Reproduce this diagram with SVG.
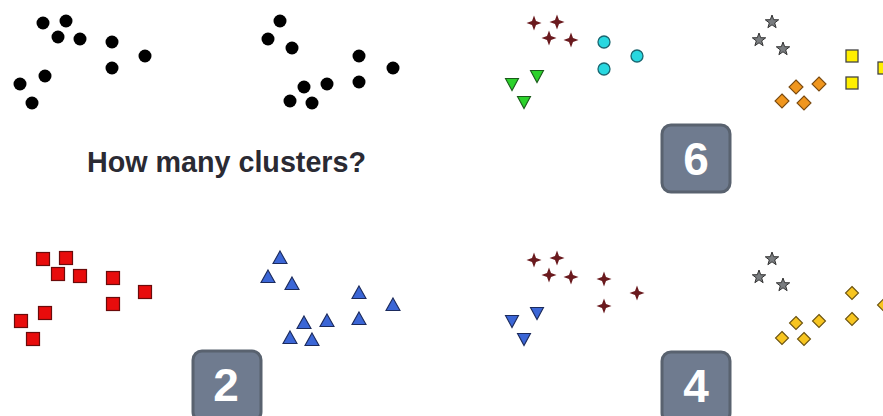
<svg xmlns="http://www.w3.org/2000/svg" xmlns:xlink="http://www.w3.org/1999/xlink" width="883" height="416" viewBox="0 0 883 416">
<style>
.dot{fill:#000}
.sq{fill:#e80c0c;stroke:#6a0b0b;stroke-width:1.2}
.tri{fill:#3b66d6;stroke:#1b2a5c;stroke-width:1.1}
.cross{fill:#6a1a1e}
.cyan{fill:#28d8e0;stroke:#1a6670;stroke-width:1.3}
.green{fill:#2bd22b;stroke:#1a5a1a;stroke-width:1.1}
.star{fill:#7a7d80;stroke:#333;stroke-width:1}
.ysq{fill:#ffef00;stroke:#444;stroke-width:1.3}
.odia{fill:#f0961e;stroke:#7a4a10;stroke-width:1.1}
.gdia{fill:#f7c520;stroke:#6a5210;stroke-width:1.1}
.bdown{fill:#3b66d6;stroke:#1b2a5c;stroke-width:1.1}
.badge{fill:#6f7b8f;stroke:#59626f;stroke-width:3}
.num{font-family:"Liberation Sans",Arial,sans-serif;font-weight:bold;font-size:46px;fill:#fff;text-anchor:middle}
.q{font-family:"Liberation Sans",Arial,sans-serif;font-weight:bold;font-size:28.7px;fill:#2a2a33}
</style>
<defs>
<circle id="d" class="dot" r="6.5"/>
<rect id="s" class="sq" x="-6.5" y="-6.5" width="13" height="13"/>
<polygon id="t" class="tri" points="0,-7 7,5.5 -7,5.5"/>
<polygon id="x" class="cross" points="0,-7.5 2,-2 7.5,0 2,2 0,7.5 -2,2 -7.5,0 -2,-2"/>
<circle id="c" class="cyan" r="6"/>
<polygon id="g" class="green" points="-6.5,-5.5 6.5,-5.5 0,6.5"/>
<polygon id="b" class="bdown" points="-6.5,-5.5 6.5,-5.5 0,6.5"/>
<polygon id="st" class="star" points="0,-7 1.7,-2.3 6.7,-2.2 2.7,0.9 4.1,5.7 0,2.8 -4.1,5.7 -2.7,0.9 -6.7,-2.2 -1.7,-2.3"/>
<rect id="y" class="ysq" x="-6" y="-6" width="12" height="12"/>
<polygon id="o" class="odia" points="0,-7 7,0 0,7 -7,0"/>
<polygon id="gd" class="gdia" points="0,-6.5 6.5,0 0,6.5 -6.5,0"/>
</defs>
<g id="panel-top-left">
<use xlink:href="#d" x="43" y="23"/><use xlink:href="#d" x="66" y="21"/><use xlink:href="#d" x="58" y="37"/><use xlink:href="#d" x="80" y="39"/>
<use xlink:href="#d" x="112" y="42"/><use xlink:href="#d" x="145" y="56"/><use xlink:href="#d" x="112" y="68"/>
<use xlink:href="#d" x="45" y="76"/><use xlink:href="#d" x="20" y="84"/><use xlink:href="#d" x="32" y="103"/>
<use xlink:href="#d" x="280" y="21"/><use xlink:href="#d" x="268" y="39"/><use xlink:href="#d" x="292" y="48"/>
<use xlink:href="#d" x="359" y="56"/><use xlink:href="#d" x="393" y="68"/><use xlink:href="#d" x="359" y="82"/>
<use xlink:href="#d" x="304" y="87"/><use xlink:href="#d" x="327" y="84"/><use xlink:href="#d" x="290" y="101"/><use xlink:href="#d" x="312" y="103"/>
</g>
<g id="question">
<text class="q" x="87" y="172">How many clusters?</text>
</g>
<g id="panel-top-right">
<use xlink:href="#x" x="534" y="23"/><use xlink:href="#x" x="557" y="22"/><use xlink:href="#x" x="549" y="38"/><use xlink:href="#x" x="571" y="40"/>
<use xlink:href="#c" x="604" y="42"/><use xlink:href="#c" x="637" y="56"/><use xlink:href="#c" x="604" y="69"/>
<use xlink:href="#g" x="537" y="76"/><use xlink:href="#g" x="512" y="84"/><use xlink:href="#g" x="524" y="102"/>
<use xlink:href="#st" x="772" y="22"/><use xlink:href="#st" x="759" y="40"/><use xlink:href="#st" x="783" y="49"/>
<use xlink:href="#y" x="852" y="56"/><use xlink:href="#y" x="852" y="83"/><use xlink:href="#y" x="884" y="68"/>
<use xlink:href="#o" x="796" y="87"/><use xlink:href="#o" x="819" y="84"/><use xlink:href="#o" x="782" y="101"/><use xlink:href="#o" x="804" y="103"/>
</g>
<g id="badge-6">
<rect class="badge" x="662" y="125" width="68" height="67" rx="9"/>
<text class="num" x="696" y="175">6</text>
</g>
<g id="panel-bottom-left">
<use xlink:href="#s" x="43" y="259"/><use xlink:href="#s" x="66" y="258"/><use xlink:href="#s" x="58" y="274"/><use xlink:href="#s" x="80" y="276"/>
<use xlink:href="#s" x="113" y="278"/><use xlink:href="#s" x="145" y="292"/><use xlink:href="#s" x="113" y="304"/>
<use xlink:href="#s" x="45" y="313"/><use xlink:href="#s" x="21" y="321"/><use xlink:href="#s" x="33" y="339"/>
<use xlink:href="#t" x="280" y="258"/><use xlink:href="#t" x="268" y="277"/><use xlink:href="#t" x="292" y="284"/>
<use xlink:href="#t" x="359" y="293"/><use xlink:href="#t" x="393" y="305"/><use xlink:href="#t" x="359" y="319"/>
<use xlink:href="#t" x="304" y="323"/><use xlink:href="#t" x="327" y="321"/><use xlink:href="#t" x="290" y="338"/><use xlink:href="#t" x="312" y="340"/>
</g>
<g id="badge-2">
<rect class="badge" x="193" y="351" width="68" height="70" rx="9"/>
<text class="num" x="226" y="401">2</text>
</g>
<g id="panel-bottom-right">
<use xlink:href="#x" x="534" y="260"/><use xlink:href="#x" x="557" y="258"/><use xlink:href="#x" x="549" y="275"/><use xlink:href="#x" x="571" y="277"/>
<use xlink:href="#x" x="604" y="279"/><use xlink:href="#x" x="637" y="293"/><use xlink:href="#x" x="604" y="306"/>
<use xlink:href="#b" x="537" y="313"/><use xlink:href="#b" x="512" y="321"/><use xlink:href="#b" x="524" y="339"/>
<use xlink:href="#st" x="772" y="259"/><use xlink:href="#st" x="759" y="277"/><use xlink:href="#st" x="783" y="285"/>
<use xlink:href="#gd" x="852" y="293"/><use xlink:href="#gd" x="884" y="305"/><use xlink:href="#gd" x="852" y="319"/>
<use xlink:href="#gd" x="796" y="323"/><use xlink:href="#gd" x="819" y="321"/><use xlink:href="#gd" x="782" y="338"/><use xlink:href="#gd" x="804" y="339"/>
</g>
<g id="badge-4">
<rect class="badge" x="662" y="352" width="68" height="70" rx="9"/>
<text class="num" x="696" y="402">4</text>
</g>
</svg>
